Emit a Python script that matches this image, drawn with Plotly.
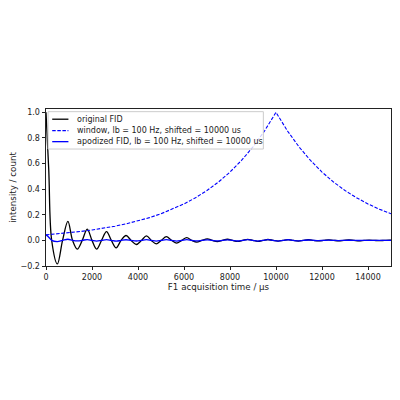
import plotly.graph_objects as go

# ---- data ----
t_fid = [0, 120, 247, 494, 720, 952, 1155, 1360, 1575, 1792, 2000, 2200, 2415, 2630,
         2840, 3050, 3265, 3480, 3700, 3926, 4150, 4368, 4580, 4792, 5010, 5234,
         5460, 5681, 5900, 6121, 6340, 6554, 6780, 7013, 7230, 7450, 7670, 7890,
         8110, 8330, 8550, 8770, 8990, 9210, 9430, 9650, 9870, 10090, 10310, 10530,
         10750, 10970, 11190, 11410, 11630, 11850, 12070, 12290, 12510, 12730,
         12950, 13170, 13390, 13610, 13830, 14050, 14270, 14490, 14710, 14930, 15000]
fid = [1.0, 0.55, 0.0, -0.184, 0.0, 0.149, 0.0, -0.068, 0.0, 0.088, 0.0, -0.068, 0.0, 0.068,
       0.0, -0.058, 0.0, 0.038, 0.0, -0.032, 0.0, 0.035, 0.0, -0.027, 0.0, 0.029,
       0.0, -0.021, 0.0, 0.021, 0.0, -0.013, 0.0, 0.012, 0.0, -0.009, 0.0, 0.009,
       0.0, -0.008, 0.0, 0.008, 0.0, -0.007, 0.0, 0.007, 0.0, -0.006, 0.0, 0.006,
       0.0, -0.005, 0.0, 0.005, 0.0, -0.004, 0.0, 0.004, 0.0, -0.003,
       0.0, 0.003, 0.0, -0.003, 0.0, 0.002, 0.0, -0.002, 0.0, 0.002, 0.0015]
apodized = [0.043, 0.025, 0.0, -0.0093, 0.0, 0.0087, 0.0, -0.0045, 0.0, 0.0067, 0.0, -0.0059, 0.0, 0.0067,
            0.0, -0.0065, 0.0, 0.0049, 0.0, -0.0048, 0.0, 0.006, 0.0, -0.0053, 0.0, 0.0065,
            0.0, -0.0054, 0.0, 0.0062, 0.0, -0.0044, 0.0, 0.0047, 0.0, -0.004, 0.0, 0.0046,
            0.0, -0.0047, 0.0, 0.0054, 0.0, -0.0055, 0.0, 0.0063, 0.0, -0.0058, 0.0, 0.0051,
            0.0, -0.0037, 0.0, 0.0032, 0.0, -0.0022, 0.0, 0.0019, 0.0, -0.0013,
            0.0, 0.0011, 0.0, -0.001, 0.0, 0.0006, 0.0, -0.0005, 0.0, 0.0004, 0.0003]

t_win = [0, 500, 1000, 1500, 2000, 2500, 3000, 3500, 4000, 4500, 5000, 5500, 6000, 6500,
         7000, 7500, 8000, 8500, 9000, 9500, 10000, 10500, 11000, 11500, 12000, 12500,
         13000, 13500, 14000, 14500, 15000]
window = [0.0432, 0.0505, 0.0592, 0.0693, 0.0811, 0.0948, 0.111, 0.1298, 0.1518, 0.1776,
          0.2079, 0.2432, 0.2846, 0.3329, 0.3898, 0.4559, 0.5335, 0.6243, 0.7304, 0.8546,
          1.0, 0.8546, 0.7304, 0.6243, 0.5335, 0.4559, 0.3898, 0.3329, 0.2846, 0.2432, 0.2079]

labels = ["original FID",
          "window, lb = 100 Hz, shifted = 10000 us",
          "apodized FID, lb = 100 Hz, shifted = 10000 us"]
x_ticks = [0, 2000, 4000, 6000, 8000, 10000, 12000, 14000]
y_ticks = [-0.2, 0.0, 0.2, 0.4, 0.6, 0.8, 1.0]

FONT = "DejaVu Sans"
BLUE = "#0000ff"

fig = go.Figure()
fig.add_trace(go.Scatter(x=t_fid, y=fid, mode="lines", name=labels[0],
                         line=dict(color="black", width=1.3, shape="spline", smoothing=1.0)))
fig.add_trace(go.Scatter(x=t_win, y=window, mode="lines", name=labels[1],
                         line=dict(color=BLUE, width=1.1, dash="3.5px,1.6px")))
fig.add_trace(go.Scatter(x=t_fid, y=apodized, mode="lines", name=labels[2],
                         line=dict(color=BLUE, width=1.3, shape="spline", smoothing=1.0)))

# custom matplotlib-like legend (paper coordinates)
lx0, lx1, ly0, ly1 = 0.006, 0.63, 0.745, 0.983
fig.add_shape(type="rect", xref="paper", yref="paper", x0=lx0, x1=lx1, y0=ly0, y1=ly1,
              line=dict(color="#cccccc", width=1), fillcolor="rgba(255,255,255,0.8)", layer="above")
rows = [0.935, 0.862, 0.792]
styles = [dict(color="black", width=1.3), dict(color=BLUE, width=1.1, dash="3.5px,1.6px"),
          dict(color=BLUE, width=1.3)]
for yy, st, lab in zip(rows, styles, labels):
    fig.add_shape(type="line", xref="paper", yref="paper", x0=0.018, x1=0.065, y0=yy, y1=yy,
                  line=st, layer="above")
    fig.add_annotation(xref="paper", yref="paper", x=0.085, y=yy, text=lab, showarrow=False,
                       xanchor="left", yanchor="middle", font=dict(family=FONT, size=8, color="#222"))

axis_common = dict(showline=True, linecolor="#222", linewidth=0.9, mirror=True,
                   ticks="outside", ticklen=3.5, tickwidth=0.8, tickcolor="#222",
                   showgrid=False, zeroline=False, automargin=False,
                   tickfont=dict(family=FONT, size=8, color="#222"))

# the page body has an 8px margin, so the margins below compensate for it
fig.update_layout(
    width=400, height=400,
    margin=dict(l=38, r=17, t=101, b=142),
    plot_bgcolor="white", paper_bgcolor="white",
    showlegend=False,
    xaxis=dict(range=[0, 15000], tickvals=x_ticks, ticktext=[str(v) for v in x_ticks],
               title=dict(text="F1 acquisition time / µs", font=dict(family=FONT, size=8.7, color="#222"),
                          standoff=2),
               **axis_common),
    yaxis=dict(range=[-0.2, 1.026], tickvals=y_ticks, tickformat=".1f",
               title=dict(text="intensity / count", font=dict(family=FONT, size=8.7, color="#222"),
                          standoff=5),
               **axis_common),
)

fig.write_html("out.html")
